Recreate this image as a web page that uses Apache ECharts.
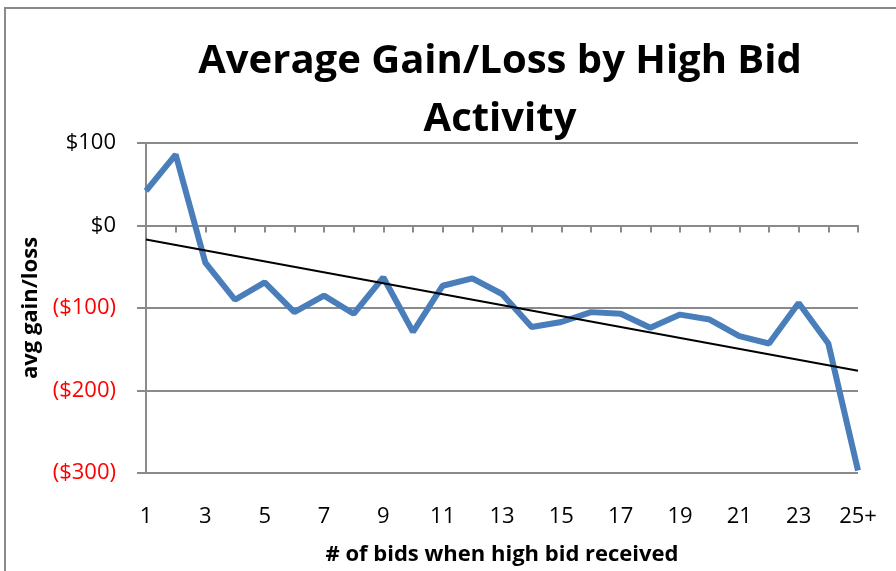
<!DOCTYPE html>
<html>
<head>
<meta charset="utf-8">
<script src="https://cdn.jsdelivr.net/npm/echarts@6/dist/echarts.min.js"></script>
<style>
  html, body { margin: 0; padding: 0; background: #fff; }
  #chart { width: 896px; height: 571px; }
</style>
</head>
<body>
<div id="chart"></div>
<script>
// bid count buckets
const bidCounts = ['1','2','3','4','5','6','7','8','9','10','11','12','13',
                   '14','15','16','17','18','19','20','21','22','23','24','25+'];
// average gain/loss per bucket ($)
const avgGain = [42, 86, -45, -90, -69, -105, -85, -107, -63, -129, -73, -64, -83,
                 -123, -117, -105, -107, -124, -108, -114, -134, -143, -94, -143, -297];
// linear trendline ends
const trendEnds = [['1', -17], ['25+', -176]];
const yTicks = { min: -300, max: 100, step: 100 };

const font = '"Open Sans", Lato, sans-serif';
const gray = '#8a8a8a';

const chart = echarts.init(document.getElementById('chart'));

chart.setOption({
    animation: false,
    textStyle: { fontFamily: font },
    title: {
        text: 'Average Gain/Loss by High Bid\nActivity',
        left: 495,
        top: 28,
        textAlign: 'center',
        textStyle: { fontFamily: font, fontSize: 40, fontWeight: 'bold', color: '#000', lineHeight: 58 }
    },
    graphic: [{
        type: 'rect',
        shape: { x: 5, y: 8, width: 1000, height: 1000 },
        style: { fill: 'none', stroke: gray, lineWidth: 2 },
        silent: true
    }],
    grid: { left: 146, right: 38, top: 143, bottom: 97 },
    xAxis: [
        {
            type: 'category',
            data: bidCounts,
            boundaryGap: false,
            position: 'bottom',
            axisLine: { show: false, onZero: false },
            axisTick: { show: false },
            axisLabel: { interval: 1, margin: 33, fontSize: 22, color: '#000', fontFamily: font },
            name: '# of bids when high bid received',
            nameLocation: 'middle',
            nameGap: 71,
            nameTextStyle: { fontSize: 22, fontWeight: 'bold', color: '#000', fontFamily: font }
        },
        {
            // the zero line carries the tick marks, like excel does
            type: 'category',
            data: bidCounts,
            boundaryGap: false,
            position: 'top',
            axisLine: { show: true, onZero: true, lineStyle: { color: gray, width: 2 } },
            axisTick: { show: true, inside: true, length: 7, interval: 0, lineStyle: { color: gray, width: 2 } },
            axisLabel: { show: false }
        }
    ],
    yAxis: {
        type: 'value',
        min: yTicks.min,
        max: yTicks.max,
        interval: yTicks.step,
        axisLine: { show: true, lineStyle: { color: gray, width: 2 } },
        axisTick: { show: true, length: 9, lineStyle: { color: gray, width: 2 } },
        splitLine: { lineStyle: { color: gray, width: 2 } },
        axisLabel: {
            margin: 30,
            fontSize: 22,
            fontFamily: font,
            formatter: v => v >= 0 ? '$' + v : '($' + (-v) + ')',
            color: v => Number(v) < 0 ? '#ff0000' : '#000'
        },
        name: 'avg gain/loss',
        nameLocation: 'middle',
        nameGap: 102,
        nameTextStyle: { fontSize: 22, fontWeight: 'bold', color: '#000', fontFamily: font }
    },
    series: [
        {
            name: 'avg gain/loss',
            type: 'line',
            data: avgGain,
            xAxisIndex: 0,
            showSymbol: false,
            lineStyle: { color: '#4a7ebb', width: 6 },
            z: 3
        },
        {
            name: 'trend',
            type: 'line',
            data: trendEnds,
            xAxisIndex: 0,
            showSymbol: false,
            lineStyle: { color: '#000', width: 2 },
            z: 4
        }
    ]
});
</script>
</body>
</html>
